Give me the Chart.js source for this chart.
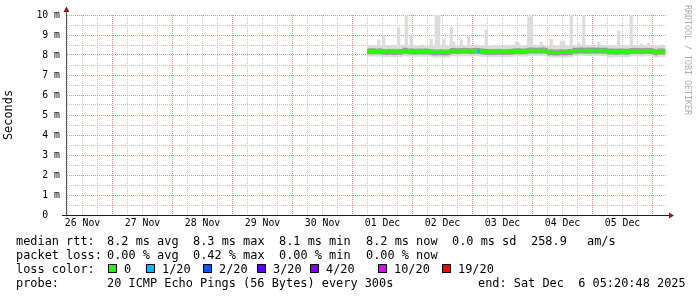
<!DOCTYPE html>
<html><head><meta charset="utf-8">
<script src="https://cdn.jsdelivr.net/npm/chart.js@4.4.1/dist/chart.umd.min.js"></script>
<style>
html,body{margin:0;padding:0;background:#fff;}
#wrap{position:relative;width:697px;height:297px;overflow:hidden;background:#fff;}
canvas{position:absolute;left:0;top:0;}
.t{position:absolute;font-family:'DejaVu Sans Mono',monospace;font-size:11.9px;line-height:14px;white-space:pre;color:#000;}
.box{position:absolute;width:9px;height:9px;box-sizing:border-box;border:1px solid #000;}
#wm{position:absolute;left:683px;top:5px;writing-mode:vertical-rl;font-family:'DejaVu Sans Mono',monospace;font-size:8.3px;line-height:9px;color:#adadad;white-space:pre;}
</style></head>
<body><div id="wrap"><canvas id="c" width="697" height="297"></canvas><div id="wm">RRDTOOL / TOBI OETIKER</div><div id="legend"></div></div>
<script>
// ---- data (times in hours since 26 Nov 00:00, values in ms) ----
const dayLabels = ['26 Nov','27 Nov','28 Nov','29 Nov','30 Nov','01 Dec','02 Dec','03 Dec','04 Dec','05 Dec'];
const yTickLabels = ['0  ','1 m','2 m','3 m','4 m','5 m','6 m','7 m','8 m','9 m','10 m'];
const firstBucketHour = 126; // 01 Dec 06:00, hourly buckets
const medianMs = [
 8.18,8.19,8.18,8.17,8.18,8.18,
 8.16,8.15,8.17,8.16,8.16,8.15,8.17,8.16,
 8.21,8.20,
 8.17,8.18,8.17,8.16,8.18,8.17,8.17,8.18,8.16,
 8.16,
 8.14,8.13,8.14,8.15,8.14,8.13,8.14,
 8.20,8.21,8.20,8.19,8.20,8.21,8.20,8.20,8.19,8.20,8.21,8.20,
 8.18,8.17,
 8.16,8.16,8.15,8.16,8.16,8.17,8.16,8.15,8.16,8.16,8.17,
 8.18,8.18,8.19,8.18,8.17,8.18,
 8.21,8.22,8.21,8.20,8.21,8.21,8.22,8.20,
 8.13,8.14,8.13,8.12,8.13,8.14,8.13,8.13,8.15,8.14,
 8.22,8.21,8.22,8.23,8.22,8.21,8.22,8.22,8.23,8.21,8.22,8.22,8.21,8.22,
 8.17,8.18,8.17,8.16,8.17,8.18,8.17,8.16,8.17,
 8.20,8.21,8.20,8.20,8.19,8.20,8.21,8.20,8.20,
 8.17,8.13,8.17,8.18,8.17];
const maxMs = [
 8.45,8.47,8.44,8.46,8.75,8.45,9.0,8.46,8.44,8.45,
 8.48,8.45,9.35,8.46,8.5,10,8.47,9.0,8.44,8.45,
 8.46,8.5,8.45,8.44,8.46,8.8,8.45,10,10,8.46,
 8.8,8.44,8.45,9.4,8.65,8.46,8.45,8.75,8.44,8.45,
 8.95,8.46,8.44,8.45,8.46,8.44,8.45,9.25,8.44,8.45,
 8.46,8.44,8.45,8.44,8.46,8.5,8.45,8.47,8.5,8.65,
 8.6,8.48,8.46,8.47,9.9,10,8.46,8.45,8.47,8.65,
 8.45,8.44,8.46,8.8,8.45,8.44,8.45,8.7,8.7,8.45,
 8.44,10,8.47,8.46,8.6,8.5,10,8.48,8.47,8.5,
 8.48,8.47,8.65,8.5,8.48,8.47,8.46,8.45,8.47,8.45,
 9.2,8.46,8.45,8.44,8.46,10,8.45,8.47,8.46,8.55,
 8.45,8.46,8.6,8.47,8.45,8.44,8.46,8.5,8.45];
const minMs = [
 7.95,7.94,7.95,7.93,7.95,7.94,
 7.92,7.91,7.93,7.92,7.90,7.92,7.93,7.92,
 7.96,7.95,
 7.93,7.94,7.92,7.93,7.94,7.93,7.92,7.94,7.93,
 7.92,
 7.90,7.88,7.90,7.91,7.89,7.90,7.90,
 7.95,7.96,7.95,7.94,7.96,7.95,7.95,7.96,7.94,7.95,7.96,7.95,
 7.93,7.93,
 7.92,7.91,7.90,7.92,7.91,7.92,7.90,7.91,7.92,7.91,7.92,
 7.94,7.94,7.95,7.93,7.94,7.94,
 7.97,7.98,7.97,7.96,7.97,7.97,7.98,7.96,
 7.89,7.90,7.89,7.88,7.89,7.90,7.89,7.89,7.91,7.90,
 7.97,7.96,7.97,7.98,7.97,7.96,7.97,7.97,7.98,7.96,7.97,7.97,7.96,7.97,
 7.90,7.88,7.92,7.90,7.91,7.92,7.91,7.90,7.92,
 7.95,7.96,7.95,7.95,7.94,7.95,7.96,7.95,7.95,
 7.92,7.88,7.92,7.93,7.92];
const lowMs = [
 8.06,8.05,8.06,8.05,8.06,8.05,
 8.03,8.02,8.03,8.03,8.02,8.02,8.04,8.03,
 8.08,8.07,
 8.05,8.05,8.04,8.04,8.05,8.05,8.04,8.05,8.04,
 8.03,
 8.00,8.00,8.01,8.01,8.00,8.00,8.01,
 8.07,8.08,8.07,8.07,8.08,8.08,8.07,8.08,8.06,8.07,8.08,8.07,
 8.05,8.05,
 8.02,8.03,8.02,8.03,8.02,8.03,8.02,8.02,8.03,8.02,8.03,
 8.05,8.06,8.06,8.05,8.05,8.06,
 8.09,8.10,8.09,8.09,8.10,8.09,8.10,8.08,
 8.00,8.01,8.00,7.99,8.00,8.01,8.00,8.00,8.02,8.01,
 8.09,8.08,8.09,8.10,8.09,8.08,8.09,8.09,8.10,8.08,8.09,8.09,8.08,8.09,
 8.04,8.05,8.04,8.03,8.04,8.05,8.04,8.03,8.04,
 8.07,8.08,8.07,8.07,8.06,8.07,8.08,8.07,8.07,
 8.04,8.00,8.04,8.05,8.04];
const highMs = [
 8.31,8.32,8.31,8.30,8.31,8.31,
 8.28,8.27,8.29,8.28,8.29,8.27,8.29,8.28,
 8.35,8.34,
 8.30,8.31,8.30,8.29,8.31,8.30,8.30,8.31,8.29,
 8.28,
 8.26,8.25,8.26,8.27,8.26,8.25,8.26,
 8.33,8.34,8.33,8.32,8.33,8.34,8.33,8.33,8.32,8.33,8.34,8.33,
 8.31,8.30,
 8.28,8.28,8.27,8.28,8.28,8.29,8.28,8.27,8.28,8.28,8.29,
 8.31,8.31,8.32,8.31,8.30,8.31,
 8.35,8.36,8.35,8.34,8.35,8.35,8.36,8.34,
 8.26,8.27,8.26,8.25,8.26,8.27,8.26,8.26,8.28,8.27,
 8.35,8.34,8.35,8.36,8.35,8.34,8.35,8.35,8.36,8.34,8.35,8.35,8.34,8.35,
 8.30,8.31,8.30,8.29,8.30,8.31,8.30,8.29,8.30,
 8.33,8.34,8.33,8.33,8.32,8.33,8.34,8.33,8.33,
 8.30,8.25,8.30,8.31,8.30];
const lossPings = [
 0,0,0,0,0,0,0,0,0,0,0,0,0,0,0,0,0,0,0,0,
 0,0,0,0,0,0,0,0,0,0,0,0,0,0,0,0,0,0,0,0,
 0,0,0,0,1,0,0,0,0,0,0,0,0,0,0,0,0,0,0,0,
 0,0,0,0,0,0,0,0,0,0,0,0,0,0,0,0,0,0,0,0,
 0,0,0,0,0,0,0,0,0,0,0,0,0,0,0,0,0,0,0,0,
 0,0,0,0,0,0,0,0,0,0,0,0,0,0,0,0,0,0,0];
const lossLevels = [0,1,2,3,4,10,19];
const lossLabels = ['0','1/20','2/20','3/20','4/20','10/20','19/20'];
const lossColors = ['#26ff00','#00b8ff','#0059ff','#5e00ff','#7e00ff','#dd00ff','#ff0000'];

// ---- styles ----
const MEDIAN_HALF = 0.068;
const MONO = "'DejaVu Sans Mono', monospace";
const MGRID = '#eb9090', GRID = '#c6c6c6';

const bucketX = medianMs.map((_, i) => firstBucketHour + i + 0.5);
const span = (lo, hi) => bucketX.map((x, i) => ({x, y: [lo[i], hi[i]]}));
function lossColor(p){ let c = lossColors[0]; lossLevels.forEach((l,k)=>{ if (p >= l) c = lossColors[k]; }); return c; }

const xTickValues = []; for (let h = 6; h <= 240; h += 6) xTickValues.push(h);
const yTickValues = []; for (let v = 0; v <= 10; v += 0.5) yTickValues.push(v);

const axesPlugin = {
  id: 'rrdAxes',
  afterDraw(chart){
    const c = chart.ctx, a = chart.chartArea;
    c.save();
    c.lineWidth = 1;
    c.strokeStyle = '#555';
    c.beginPath(); c.moveTo(a.left - 0.5, a.bottom + 0.5); c.lineTo(a.left - 0.5, a.top - 5); c.stroke();
    c.strokeStyle = '#1f1f1f';
    c.beginPath(); c.moveTo(a.left - 5, a.bottom + 0.5); c.lineTo(a.right + 3, a.bottom + 0.5); c.stroke();
    c.fillStyle = '#8e1c1c';
    c.beginPath(); c.moveTo(a.left - 3.5, a.top - 3); c.lineTo(a.left + 2.5, a.top - 3); c.lineTo(a.left - 0.5, a.top - 8.5); c.closePath(); c.fill();
    c.beginPath(); c.moveTo(a.right + 2, a.bottom - 2.5); c.lineTo(a.right + 2, a.bottom + 3.5); c.lineTo(a.right + 7, a.bottom + 0.5); c.closePath(); c.fill();
    c.restore();
  }
};

new Chart(document.getElementById('c'), {
  type: 'bar',
  data: { datasets: [
    { label: 'median', data: span(medianMs.map(m=>m-MEDIAN_HALF), medianMs.map(m=>m+MEDIAN_HALF)),
      backgroundColor: lossPings.map(lossColor), order: 0 },
    { label: 'inner', data: span(lowMs, highMs), backgroundColor: '#9a9a9a', order: 1 },
    { label: 'smoke', data: span(minMs, maxMs), backgroundColor: '#dcdcdc', order: 2 }
  ]},
  options: {
    responsive: false, animation: false, devicePixelRatio: 1,
    layout: { padding: { left: 0, top: 15, right: 30, bottom: 0 } },
    datasets: { bar: { grouped: false, barPercentage: 1, categoryPercentage: 1, borderWidth: 0 } },
    plugins: { legend: { display: false }, tooltip: { enabled: false } },
    scales: {
      x: {
        type: 'linear', min: 5.8, max: 245.8, offset: false,
        afterBuildTicks: s => { s.ticks = xTickValues.map(v => ({value: v})); },
        afterFit: s => { s.height = 82; },
        grid: { offset: false, drawTicks: false, lineWidth: 1,
          color: ctx => (ctx.tick && ctx.tick.value % 24 === 0) ? MGRID : GRID },
        border: { display: false, dash: [1, 1] },
        ticks: { autoSkip: false, maxRotation: 0, padding: 3, color: '#000',
          font: { family: MONO, size: 9.8 },
          callback: v => (v % 24 === 12) ? dayLabels[(v - 12) / 24] : '' }
      },
      y: {
        type: 'linear', min: 0, max: 10,
        afterBuildTicks: s => { s.ticks = yTickValues.map(v => ({value: v})); },
        afterFit: s => { s.width = 67; },
        grid: { drawTicks: false, lineWidth: 1,
          color: ctx => (ctx.tick && ctx.tick.value % 1 === 0) ? MGRID : GRID },
        border: { display: false, dash: [1, 1] },
        title: { display: true, text: 'Seconds', color: '#000', font: { family: MONO, size: 11.9 }, padding: { top: 2, bottom: 0 } },
        ticks: { autoSkip: false, padding: 7, color: '#000', font: { family: MONO, size: 9.8 },
          callback: v => (v % 1 === 0) ? yTickLabels[v] : '' }
      }
    }
  },
  plugins: [axesPlugin]
});

// ---- legend text ----
const legendRows = [
  { cy: 241, items: [[16,'median rtt:'],[107,'8.2 ms avg'],[193,'8.3 ms max'],[279,'8.1 ms min'],[366,'8.2 ms now'],[452,'0.0 ms sd'],[531,'258.9'],[587,'am/s']] },
  { cy: 255, items: [[16,'packet loss:'],[107,'0.00 % avg'],[193,'0.42 % max'],[279,'0.00 % min'],[366,'0.00 % now']] },
  { cy: 268.5, items: [[16,'loss color:']] },
  { cy: 282.5, items: [[16,'probe:'],[107,'20 ICMP Echo Pings (56 Bytes) every 300s'],[478,'end: Sat Dec  6 05:20:48 2025']] }
];
const lossBoxX = [108,146,203,257,310,378,442];
const lg = document.getElementById('legend');
legendRows.forEach(r => r.items.forEach(([x, txt]) => {
  const d = document.createElement('div'); d.className = 't'; d.textContent = txt;
  d.style.left = x + 'px'; d.style.top = (r.cy - 7) + 'px'; lg.appendChild(d);
}));
lossBoxX.forEach((x, k) => {
  const b = document.createElement('div'); b.className = 'box'; b.style.left = x + 'px'; b.style.top = '264px';
  b.style.background = lossColors[k]; lg.appendChild(b);
  const d = document.createElement('div'); d.className = 't'; d.textContent = lossLabels[k];
  d.style.left = (x + 16) + 'px'; d.style.top = (268.5 - 7) + 'px'; lg.appendChild(d);
});
</script>
</body></html>
